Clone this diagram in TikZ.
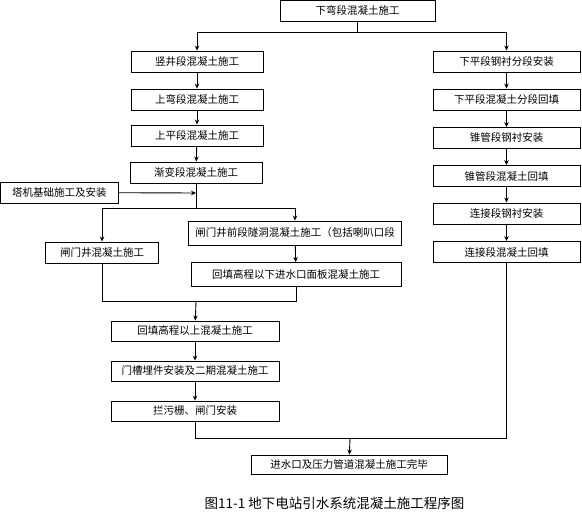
\documentclass[tikz,border=0pt]{standalone}
\usepackage{fontspec}
\newfontfamily\cjk{Noto Sans CJK SC}
\usetikzlibrary{arrows.meta}

\begin{document}
\begin{tikzpicture}[x=1pt,y=-1pt,line width=0.9pt,
    stepbox/.style={draw,rectangle,inner sep=0pt,minimum height=21pt,
        font=\cjk\fontsize{10.5}{12}\selectfont},
    arr/.style={-{Stealth[length=5pt,width=4.5pt]}}]

    \useasboundingbox (0,0) rectangle (582,517);

    % left and right columns
    \node[stepbox,minimum width=155pt] (top) at (357.5,10.5) {下弯段混凝土施工};
    \node[stepbox,minimum width=132pt] (sj)  at (197,61.5)  {竖井段混凝土施工};
    \node[stepbox,minimum width=132pt] (swd) at (197,99.5)  {上弯段混凝土施工};
    \node[stepbox,minimum width=132pt] (spd) at (197,135.5) {上平段混凝土施工};
    \node[stepbox,minimum width=132pt] (jbd) at (196,172.5) {渐变段混凝土施工};
    \node[stepbox,minimum width=118pt] (tj)  at (59.5,192.5) {塔机基础施工及安装};

    \node[stepbox,minimum width=147pt] (r1) at (506.5,61.5) {下平段钢衬分段安装};
    \node[stepbox,minimum width=147pt] (r2) at (506.5,99.5) {下平段混凝土分段回填};
    \node[stepbox,minimum width=147pt] (r3) at (506.5,138)  {锥管段钢衬安装};
    \node[stepbox,minimum width=147pt] (r4) at (506.5,176)  {锥管段混凝土回填};
    \node[stepbox,minimum width=147pt] (r5) at (506.5,213.5) {连接段钢衬安装};
    \node[stepbox,minimum width=147pt] (r6) at (506.5,252)  {连接段混凝土回填};

    % branch below the transition section
    \node[stepbox,minimum width=113pt] (zmj) at (102,252.5) {闸门井混凝土施工};
    \node[stepbox,minimum width=213pt,minimum height=24pt] (qd) at (295,233)
        {闸门井前段隧洞混凝土施工（包括喇叭口段};
    \node[stepbox,minimum width=210pt,minimum height=24pt] (hx) at (296,274.5)
        {回填高程以下进水口面板混凝土施工};

    \node[stepbox,minimum width=168pt,minimum height=20pt] (hs) at (195,331) {回填高程以上混凝土施工};
    \node[stepbox,minimum width=168pt,minimum height=20pt] (mc) at (195,371) {门槽埋件安装及二期混凝土施工};
    \node[stepbox,minimum width=168pt,minimum height=20pt] (lw) at (195,411) {拦污栅、闸门安装};

    \node[stepbox,minimum width=196pt,minimum height=19pt] (fin) at (349,464.5) {进水口及压力管道混凝土施工完毕};

    \node[font=\cjk\fontsize{13.5}{15}\selectfont] (cap) at (334.5,503) {图11-1 地下电站引水系统混凝土施工程序图};

    \coordinate (s1) at (357.5,32);
    \coordinate (s2) at (196,208);
    \coordinate (j1) at (196,193);
    \coordinate (j2) at (196,301);
    \coordinate (j3) at (350,438);

    \draw (top) -- (s1);
    \draw[arr] (s1) -| (sj);
    \draw[arr] (s1) -| (r1);
    \draw[arr] (sj) -- (swd);
    \draw[arr] (swd) -- (spd);
    \draw[arr] (spd) -- (jbd);
    \draw (jbd) -- (s2);
    \draw[arr] (tj) -- (j1);
    \draw[arr] (s2) -| (zmj);
    \draw[arr] (s2) -| (qd);
    \draw[arr] (qd) -- (hx);
    \draw (zmj) |- (j2);
    \draw (hx) |- (j2);
    \draw[arr] (j2) -- (hs);
    \draw[arr] (hs) -- (mc);
    \draw[arr] (mc) -- (lw);

    \draw[arr] (r1) -- (r2);
    \draw[arr] (r2) -- (r3);
    \draw[arr] (r3) -- (r4);
    \draw[arr] (r4) -- (r5);
    \draw[arr] (r5) -- (r6);

    \draw (lw) |- (j3);
    \draw (r6) |- (j3);
    \draw[arr] (j3) -- (fin);

\end{tikzpicture}
\end{document}
